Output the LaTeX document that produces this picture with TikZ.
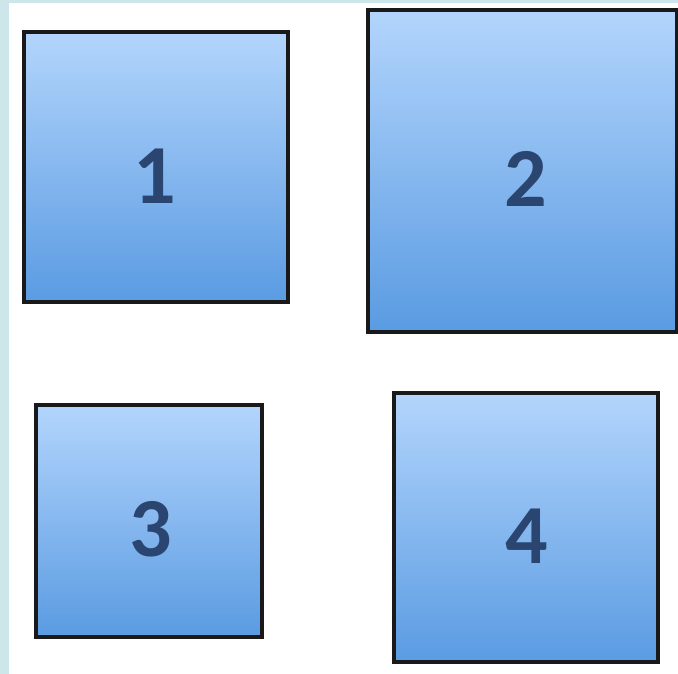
\documentclass[tikz,border=0pt]{standalone}
\usepackage{fontspec}
\setmainfont{Carlito}
\usetikzlibrary{shadows}
\definecolor{strip}{HTML}{CDE6EA}
\definecolor{topblue}{HTML}{B3D5FC}
\definecolor{botblue}{HTML}{5A9BE2}
\definecolor{digit}{HTML}{2A4670}
\tikzset{
  sq/.style={draw=black!90, line width=3.4pt, top color=topblue, bottom color=botblue, drop shadow={shadow xshift=1.5pt, shadow yshift=-1.5pt, opacity=0.3}},
  num/.style={font=\fontsize{84}{84}\selectfont\bfseries, text=digit}
}
\begin{document}
\begin{tikzpicture}[x=1pt,y=-1pt]
\useasboundingbox (0,0) rectangle (678,674);
\fill[white] (0,0) rectangle (678,674);
\fill[strip] (0,0) rectangle (9,674);
\fill[strip] (0,0) rectangle (678,3);
\path[sq] (24,32) rectangle (288,302);
\path[sq] (368,10) rectangle (677,332);
\path[sq] (36,405) rectangle (262,637);
\path[sq] (394,393) rectangle (658,662);
\node[num] (n1) at (155,176) {1};
\node[num] (n2) at (526,179) {2};
\node[num] (n3) at (151,529) {3};
\node[num] (n4) at (527,536) {4};
\end{tikzpicture}
\end{document}
